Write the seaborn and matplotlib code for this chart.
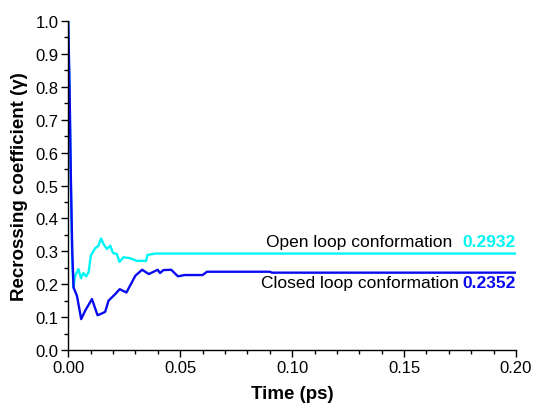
import matplotlib

matplotlib.use("Agg")

import matplotlib.pyplot as plt
import matplotlib.ticker as mtick
import pandas as pd
import seaborn as sns

# recrossing coefficient vs time
open_time = [0.0, 0.0006, 0.0012, 0.0018, 0.0023, 0.0031, 0.0046, 0.0057, 0.0068, 0.0080,
             0.0091, 0.0101, 0.0120, 0.0135, 0.0147, 0.0158, 0.0173, 0.0188, 0.0200,
             0.0217, 0.0229, 0.0247, 0.0277, 0.0307, 0.0348, 0.0354, 0.0388, 0.20]
open_gamma = [1.0, 0.78, 0.50, 0.28, 0.19, 0.226, 0.246, 0.218, 0.234, 0.224,
              0.236, 0.287, 0.309, 0.317, 0.339, 0.322, 0.307, 0.317, 0.295,
              0.292, 0.268, 0.282, 0.279, 0.271, 0.271, 0.289, 0.2932, 0.2932]

closed_time = [0.0, 0.0006, 0.0012, 0.0018, 0.0024, 0.0039, 0.0058, 0.0076, 0.0106,
               0.0131, 0.0143, 0.0165, 0.0180, 0.0210, 0.0230, 0.0260, 0.0300, 0.0330,
               0.0360, 0.0400, 0.0410, 0.0425, 0.0460, 0.0490, 0.0520, 0.0600, 0.0620,
               0.0900, 0.0910, 0.20]
closed_gamma = [1.0, 0.80, 0.52, 0.30, 0.19, 0.165, 0.094, 0.120, 0.155,
                0.106, 0.109, 0.116, 0.150, 0.170, 0.185, 0.175, 0.226, 0.244,
                0.231, 0.244, 0.234, 0.243, 0.244, 0.224, 0.228, 0.228, 0.238,
                0.238, 0.2352, 0.2352]

OPEN_COLOR = "#00f5f5"
CLOSED_COLOR = "#0a0af0"

sns.set_style("ticks")
plt.rcParams["font.family"] = ["Liberation Sans", "DejaVu Sans"]

open_df = pd.DataFrame({"time": open_time, "gamma": open_gamma})
closed_df = pd.DataFrame({"time": closed_time, "gamma": closed_gamma})

fig = plt.figure(figsize=(5.37, 4.14), dpi=100)
ax = fig.add_axes([0.127, 0.152, 0.834, 0.795])

sns.lineplot(data=open_df, x="time", y="gamma", color=OPEN_COLOR, linewidth=1.7, ax=ax)
sns.lineplot(data=closed_df, x="time", y="gamma", color=CLOSED_COLOR, linewidth=1.7, ax=ax)

ax.set_xlim(0, 0.2)
ax.set_ylim(0, 1.0)
ax.xaxis.set_major_locator(mtick.MultipleLocator(0.05))
ax.xaxis.set_minor_locator(mtick.MultipleLocator(0.01))
ax.yaxis.set_major_locator(mtick.MultipleLocator(0.1))
ax.yaxis.set_minor_locator(mtick.MultipleLocator(0.05))
ax.xaxis.set_major_formatter(mtick.FormatStrFormatter("%.2f"))
ax.yaxis.set_major_formatter(mtick.FormatStrFormatter("%.1f"))
ax.tick_params(which="major", direction="out", length=5, width=1, labelsize=12,
               color="black", labelcolor="black", pad=2)
ax.tick_params(which="minor", direction="out", length=3, width=1, color="black")
for side in ["left", "bottom"]:
    ax.spines[side].set_color("black")
    ax.spines[side].set_linewidth(1)
sns.despine(ax=ax)

ax.set_xlabel("Time (ps)", fontsize=13.5, weight="bold", labelpad=7, color="black")
ax.set_ylabel("Recrossing coefficient (\u03b3)", fontsize=13.5, weight="bold", labelpad=5, color="black")

ax.text(0.1713, 0.329, "Open loop conformation", ha="right", va="center", fontsize=12.5, color="black")
ax.text(0.2, 0.329, "0.2932", ha="right", va="center", fontsize=12.5, color=OPEN_COLOR, weight="bold")
ax.text(0.1743, 0.204, "Closed loop conformation", ha="right", va="center", fontsize=12.5, color="black")
ax.text(0.2, 0.204, "0.2352", ha="right", va="center", fontsize=12.5, color=CLOSED_COLOR, weight="bold")

fig.savefig("out.png", dpi=100, facecolor="white")
